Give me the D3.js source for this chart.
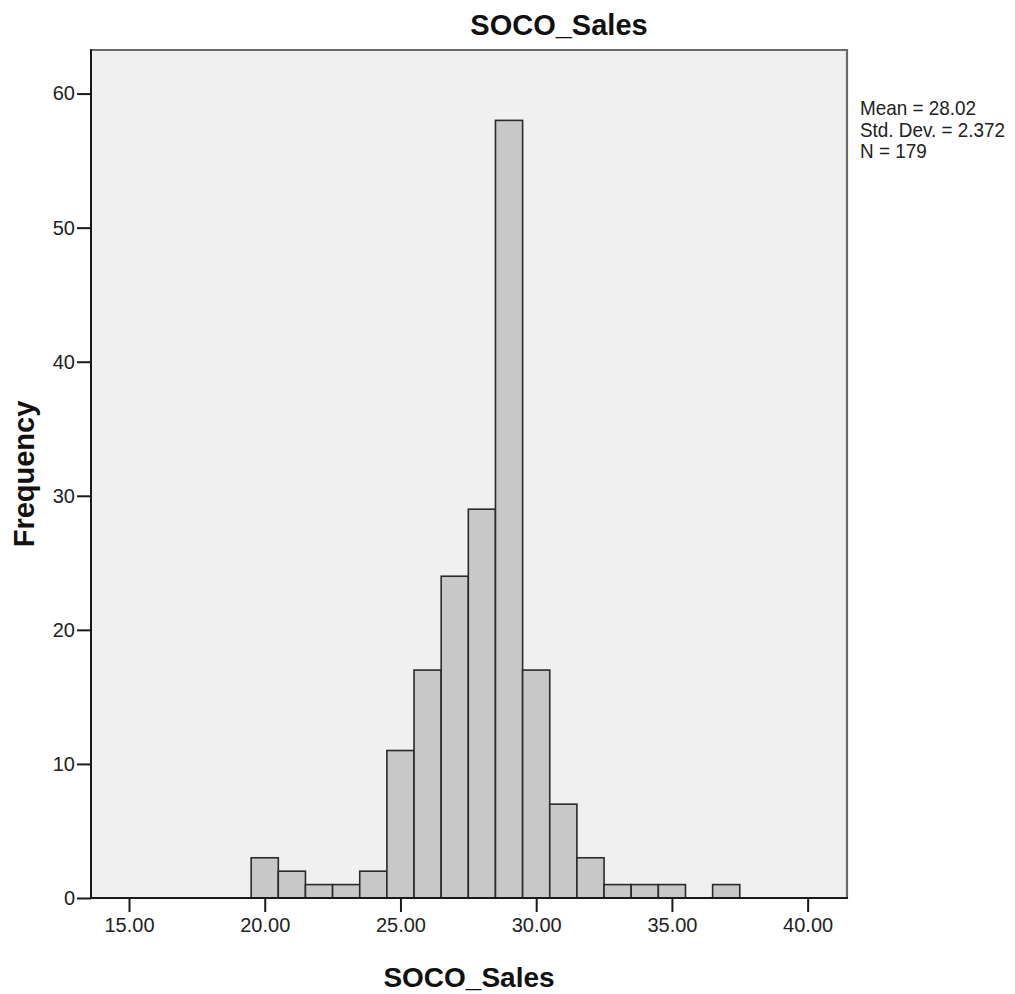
<!DOCTYPE html>
<html>
<head>
<meta charset="utf-8">
<script src="https://cdn.jsdelivr.net/npm/d3@7"></script>
<style>
  html, body { margin: 0; padding: 0; background: #ffffff; }
  svg { display: block; font-family: "Liberation Sans", Arial, sans-serif; }
</style>
</head>
<body>
<svg id="chart" width="1015" height="994"></svg>
<script>
// ---- data ----
const binStarts = [19.5, 20.5, 21.5, 22.5, 23.5, 24.5, 25.5, 26.5, 27.5, 28.5, 29.5, 30.5, 31.5, 32.5, 33.5, 34.5, 35.5, 36.5];
const counts    = [3, 2, 1, 1, 2, 11, 17, 24, 29, 58, 17, 7, 3, 1, 1, 1, 0, 1];
const binWidth = 1;
const xTicks = [15, 20, 25, 30, 35, 40];
const yTicks = [0, 10, 20, 30, 40, 50, 60];
const statsLines = ["Mean = 28.02", "Std. Dev. = 2.372", "N = 179"];
const titleText = "SOCO_Sales";
const xLabel = "SOCO_Sales";
const yLabel = "Frequency";

(function () {
// ---- layout ----
const pL = 91, pR = 847, pT = 50, pB = 898;
const svg = d3.select("#chart");

const x = d3.scaleLinear().domain([13.6, 41.45]).range([pL, pR]);
const y = d3.scaleLinear().domain([0, 63.25]).range([pB, pT]);

// plot background
svg.append("rect")
  .attr("x", pL).attr("y", pT)
  .attr("width", pR - pL).attr("height", pB - pT)
  .attr("fill", "#f0f0f0");

// top & right frame
svg.append("path")
  .attr("d", `M${pL},${pT}H${pR}V${pB}`)
  .attr("fill", "none").attr("stroke", "#6a6a6a").attr("stroke-width", 2.2);

// bars
const bins = binStarts.map((s, i) => ({ x0: s, x1: s + binWidth, n: counts[i] })).filter(d => d.n > 0);
svg.append("g").selectAll("rect").data(bins).join("rect")
  .attr("x", d => x(d.x0))
  .attr("y", d => y(d.n))
  .attr("width", d => x(d.x1) - x(d.x0))
  .attr("height", d => y(0) - y(d.n))
  .attr("fill", "#c8c8c8")
  .attr("stroke", "#2a2a2a")
  .attr("stroke-width", 1.6);

// axes
const xAxis = svg.append("g")
  .attr("transform", `translate(0,${pB})`)
  .call(d3.axisBottom(x).tickValues(xTicks).tickFormat(d3.format(".2f")).tickSize(14).tickSizeOuter(0).tickPadding(6));
const yAxis = svg.append("g")
  .attr("transform", `translate(${pL},0)`)
  .call(d3.axisLeft(y).tickValues(yTicks).tickSize(14).tickSizeOuter(0).tickPadding(2));

[xAxis, yAxis].forEach(g => {
  g.select(".domain").attr("stroke", "#1a1a1a").attr("stroke-width", 2);
  g.selectAll(".tick line").attr("stroke", "#1a1a1a").attr("stroke-width", 2);
  g.selectAll(".tick text")
    .attr("fill", "#222")
    .style("font-family", '"Liberation Sans", Arial, sans-serif')
    .style("font-size", "20px");
});
xAxis.select(".domain").attr("d", `M${pL - 1},0H${pR + 1}`);
yAxis.select(".domain").attr("d", `M0,${pT - 1}V${pB}`);

// title
svg.append("text")
  .attr("x", 559).attr("y", 35)
  .attr("text-anchor", "middle")
  .attr("font-size", 29).attr("font-weight", "bold").attr("fill", "#111")
  .text(titleText);

// x label
svg.append("text")
  .attr("x", (pL + pR) / 2).attr("y", 987)
  .attr("text-anchor", "middle")
  .attr("font-size", 28).attr("font-weight", "bold").attr("fill", "#111")
  .text(xLabel);

// y label
svg.append("text")
  .attr("transform", `translate(34,${(pT + pB) / 2}) rotate(-90)`)
  .attr("text-anchor", "middle")
  .attr("font-size", 29).attr("font-weight", "bold").attr("fill", "#111")
  .text(yLabel);

// stats box (slightly condensed like the reference font)
const stats = svg.append("g").attr("transform", "translate(860,0) scale(0.9,1)");
stats.selectAll("text").data(statsLines).join("text")
  .attr("x", 0)
  .attr("y", (d, i) => 115.5 + i * 21.5)
  .attr("font-size", 21).attr("fill", "#222")
  .text(d => d);
})();
</script>
</body>
</html>
